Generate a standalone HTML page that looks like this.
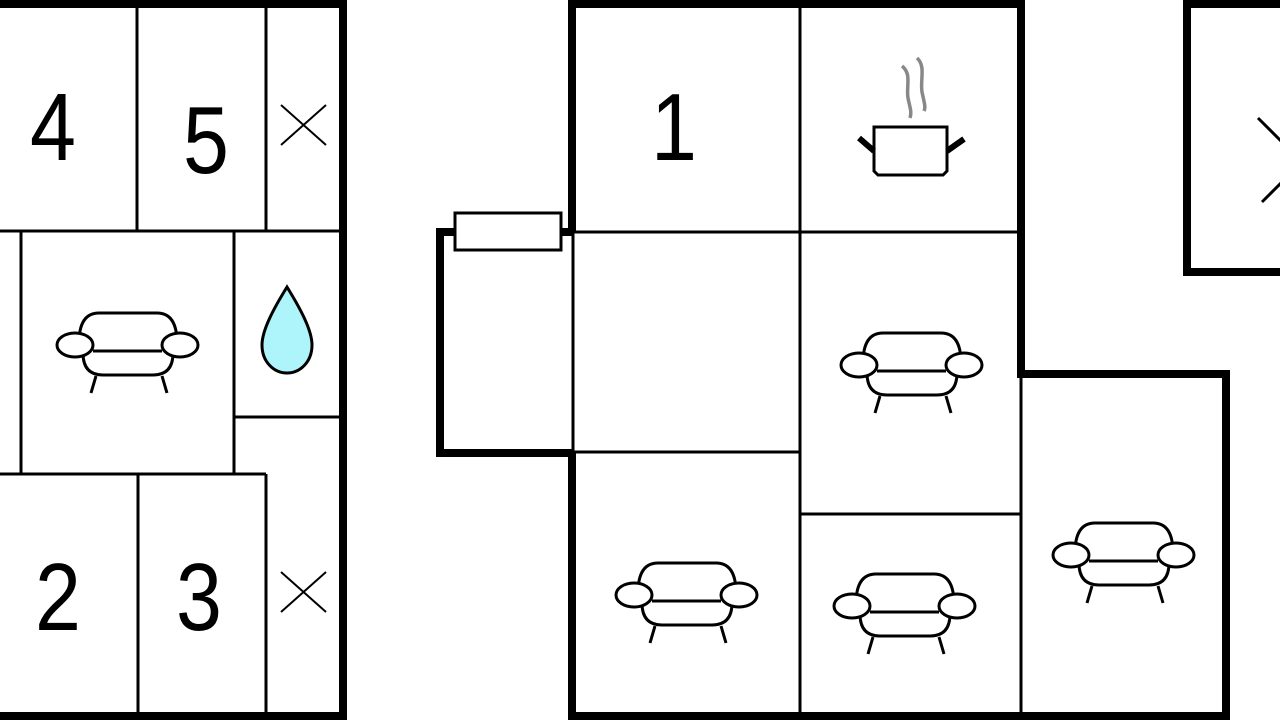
<!DOCTYPE html>
<html><head><meta charset="utf-8"><style>
html,body{margin:0;padding:0;background:#fff;width:1280px;height:720px;overflow:hidden}
svg{display:block}
text{font-family:"Liberation Sans",sans-serif;font-size:96px;fill:#000;text-anchor:middle}
</style></head><body>
<svg width="1280" height="720" viewBox="0 0 1280 720" xmlns="http://www.w3.org/2000/svg">
<defs>
<g id="sofa" fill="none" stroke="#000" stroke-width="3">
<path d="M-48 -2 Q-48 -32 -28 -32 L30 -32 Q50 -32 50 -2"/>
<line x1="-34" y1="6" x2="35" y2="6"/>
<path d="M-44 8 Q-44 30 -24 30 L26 30 Q46 30 46 8"/>
<ellipse cx="-52" cy="0" rx="18" ry="12" fill="#fff"/>
<ellipse cx="53" cy="0" rx="18" ry="12" fill="#fff"/>
<line x1="-31" y1="31" x2="-36" y2="48"/>
<line x1="35" y1="31" x2="40" y2="48"/>
</g>
</defs>
<g stroke="#000" fill="none">
<g stroke-width="3">
<line x1="137" y1="4" x2="137" y2="230"/>
<line x1="266" y1="4" x2="266" y2="230"/>
<line x1="0" y1="231" x2="343" y2="231"/>
<line x1="21" y1="231" x2="21" y2="473"/>
<line x1="234" y1="231" x2="234" y2="473"/>
<line x1="234" y1="417" x2="343" y2="417"/>
<line x1="0" y1="474" x2="266" y2="474"/>
<line x1="266" y1="474" x2="266" y2="716"/>
<line x1="138" y1="474" x2="138" y2="716"/>
</g>
<g stroke-width="8">
<polyline points="0,4 343,4 343,716 0,716"/>
</g>
<g stroke-width="3">
<line x1="800" y1="4" x2="800" y2="716"/>
<line x1="572" y1="232" x2="1021" y2="232"/>
<line x1="572" y1="452" x2="800" y2="452"/>
<line x1="800" y1="514" x2="1021" y2="514"/>
<line x1="1021" y1="374" x2="1021" y2="716"/>
<line x1="573" y1="232" x2="573" y2="452"/>
</g>
<g stroke-width="8">
<polyline points="572,232 572,4 1021,4 1021,374 1226,374 1226,716 572,716 572,452"/>
<polyline points="572,232 440,232 440,453 572,453"/>
<rect x="1187" y="4" width="110" height="268"/>
</g>
<rect x="455" y="213" width="106" height="37" stroke-width="3" fill="#fff"/>
<g stroke-width="2">
<line x1="281" y1="105" x2="326" y2="145"/><line x1="281" y1="145" x2="326" y2="105"/>
<line x1="281" y1="572" x2="326" y2="612"/><line x1="281" y1="612" x2="326" y2="572"/>
</g>
<g stroke-width="3">
<line x1="1258" y1="118" x2="1342" y2="202"/><line x1="1262" y1="202" x2="1346" y2="118"/>
</g>
<path d="M287 287 C 300 308 312 330 312 345 C 312 362 300 373 287 373 C 274 373 262 362 262 345 C 262 330 274 308 287 287 Z" fill="#aef4fb" stroke-width="3"/>
<path d="M874 127 L947 127 L947 171 L943 175 L878 175 L874 171 Z" stroke-width="3" fill="#fff"/>
<line x1="859" y1="138" x2="874" y2="151" stroke-width="6"/>
<line x1="947" y1="151" x2="964" y2="139" stroke-width="6"/>
<path d="M902 66 C912 74 906 86 908 98 C910 108 912 112 910 118" stroke="#888" stroke-width="3.5"/>
<path d="M917 58 C926 66 920 80 922 92 C924 102 926 107 924 111" stroke="#888" stroke-width="3.5"/>
</g>
<use href="#sofa" x="127" y="345"/>
<use href="#sofa" x="911" y="365"/>
<use href="#sofa" x="686" y="595"/>
<use href="#sofa" x="904" y="606"/>
<use href="#sofa" x="1123" y="555"/>
<g transform="translate(53,160) scale(0.86,1)"><text x="0" y="0">4</text></g>
<g transform="translate(206,173) scale(0.86,1)"><text x="0" y="0">5</text></g>
<g transform="translate(58,630) scale(0.86,1)"><text x="0" y="0">2</text></g>
<g transform="translate(199,630) scale(0.86,1)"><text x="0" y="0">3</text></g>
<g transform="translate(674,160) scale(0.86,1)"><text x="0" y="0">1</text></g>
</svg>
</body></html>
